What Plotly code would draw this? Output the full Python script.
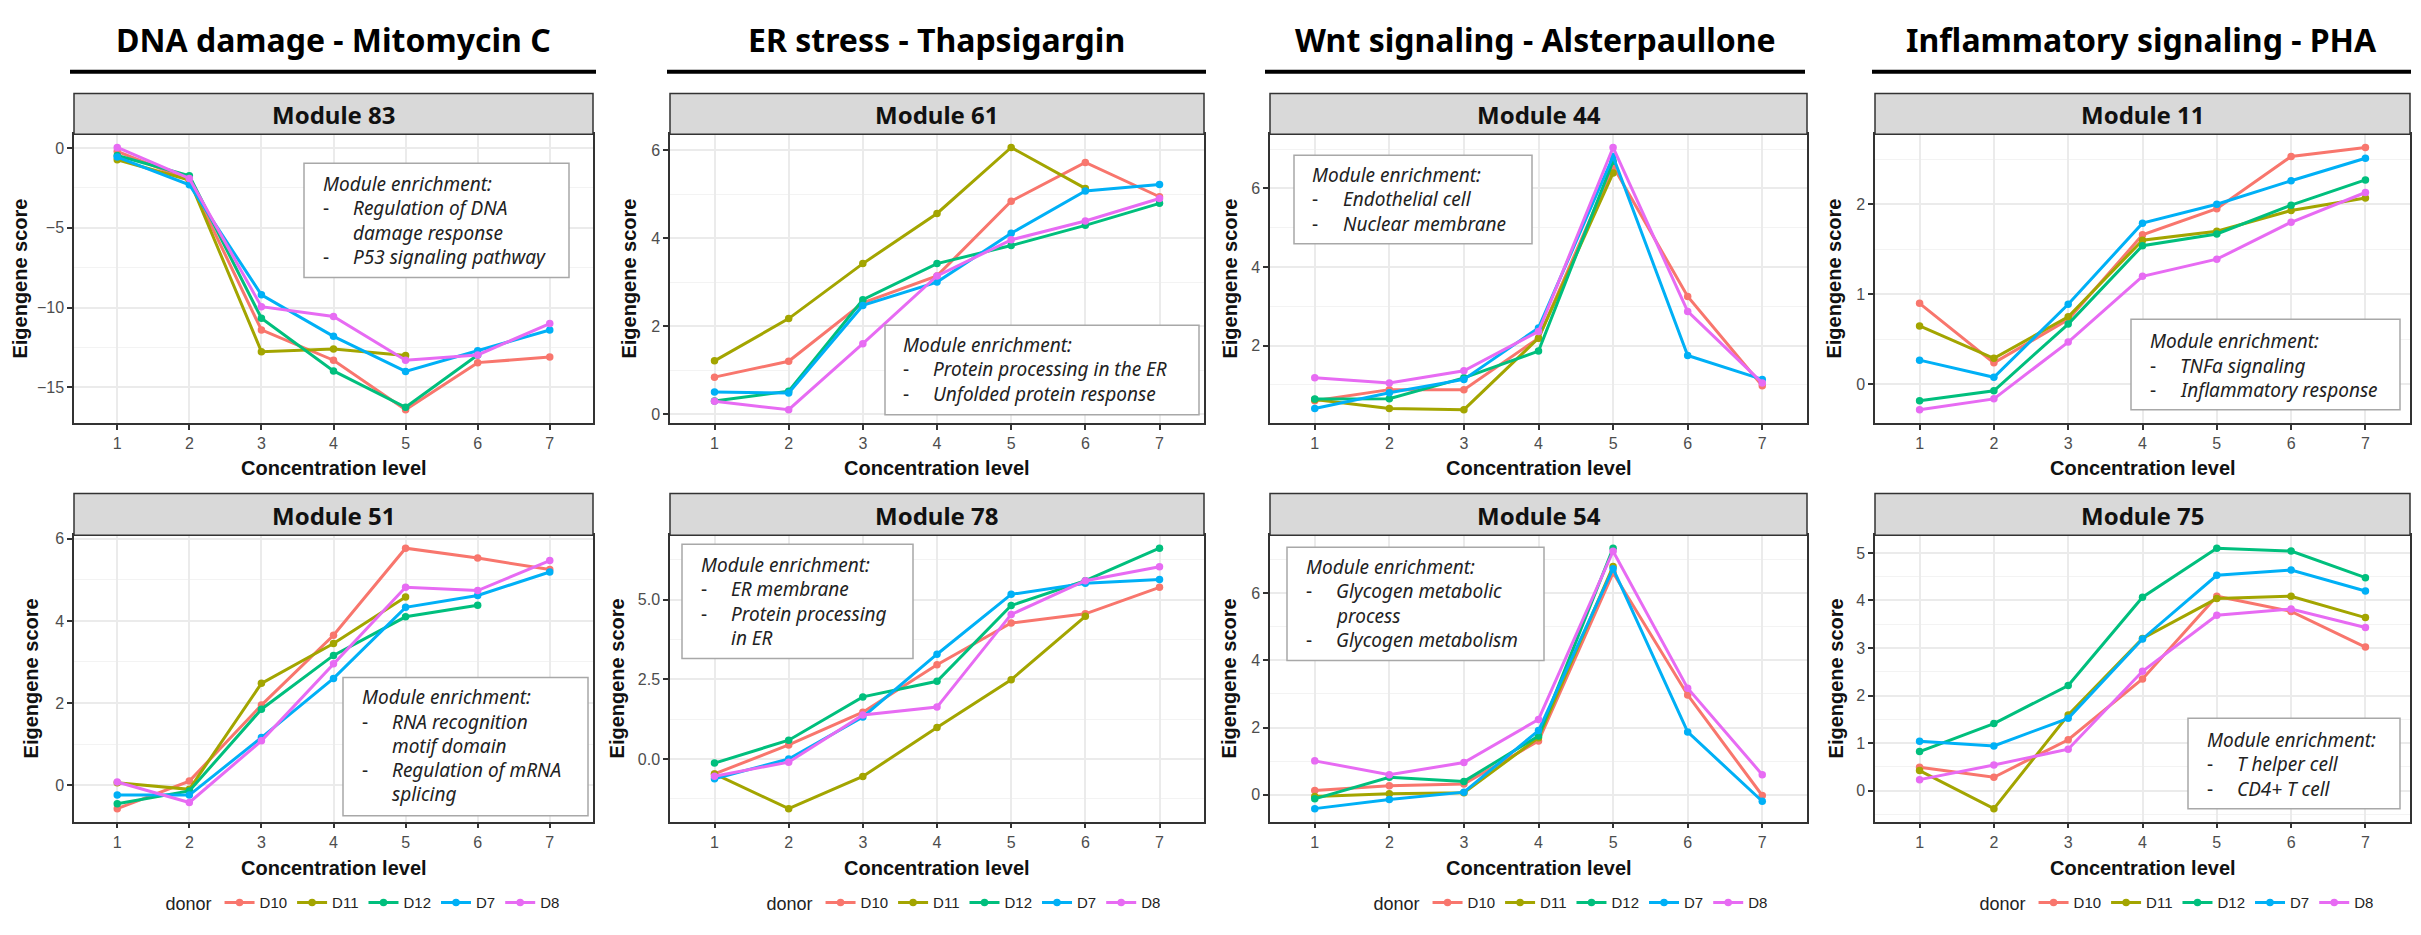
import plotly.graph_objects as go

# ---------------- data ----------------
levels = [1, 2, 3, 4, 5, 6, 7]
donors = ["D10", "D11", "D12", "D7", "D8"]
donor_colors = ["#F8766D", "#A3A500", "#00BF7D", "#00B0F6", "#E76BF3"]

column_titles = ["DNA damage - Mitomycin C", "ER stress - Thapsigargin",
                 "Wnt signaling - Alsterpaullone", "Inflammatory signaling - PHA"]

module_83 = {"D10": [-0.2, -2.0, -11.4, -13.3, -16.4, -13.45, -13.1],
             "D11": [-0.73, -2.0, -12.76, -12.6, -13.0, None, None],
             "D12": [-0.46, -1.74, -10.67, -13.97, -16.25, -12.97, None],
             "D7": [-0.56, -2.3, -9.2, -11.8, -14.0, -12.7, -11.4],
             "D8": [0.04, -1.9, -9.94, -10.56, -13.3, -12.97, -11.0]}
module_61 = {"D10": [0.84, 1.2, 2.53, 3.14, 4.84, 5.72, 4.94],
             "D11": [1.21, 2.17, 3.42, 4.56, 6.06, 5.13, None],
             "D12": [0.30, 0.52, 2.6, 3.42, 3.83, 4.29, 4.79],
             "D7": [0.5, 0.48, 2.47, 3.0, 4.11, 5.07, 5.22],
             "D8": [0.29, 0.1, 1.6, 3.14, 3.96, 4.39, 4.9]}
module_44 = {"D10": [0.6, 0.88, 0.88, 2.19, 6.56, 3.25, 0.98],
             "D11": [0.63, 0.4, 0.37, 2.19, 6.39, None, None],
             "D12": [0.64, 0.65, 1.18, 1.86, 6.69, None, None],
             "D7": [0.4, 0.8, 1.14, 2.45, 6.81, 1.75, 1.14],
             "D8": [1.18, 1.05, 1.36, 2.36, 7.04, 2.87, 1.05]}
module_11 = {"D10": [0.9, 0.24, 0.72, 1.66, 1.95, 2.53, 2.63],
             "D11": [0.65, 0.29, 0.75, 1.6, 1.7, 1.93, 2.07],
             "D12": [-0.18, -0.07, 0.67, 1.54, 1.67, 1.99, 2.27],
             "D7": [0.27, 0.08, 0.89, 1.79, 2.0, 2.26, 2.51],
             "D8": [-0.28, -0.16, 0.47, 1.2, 1.39, 1.8, 2.13]}
module_51 = {"D10": [-0.57, 0.1, 1.95, 3.65, 5.77, 5.53, 5.25],
             "D11": [0.06, -0.1, 2.48, 3.45, 4.58, None, None],
             "D12": [-0.45, -0.14, 1.85, 3.16, 4.1, 4.38, None],
             "D7": [-0.24, -0.24, 1.16, 2.6, 4.33, 4.62, 5.19],
             "D8": [0.08, -0.42, 1.08, 2.96, 4.82, 4.74, 5.47]}
module_78 = {"D10": [-0.47, 0.44, 1.47, 2.96, 4.27, 4.56, 5.39],
             "D11": [-0.47, -1.56, -0.55, 0.99, 2.49, 4.48, None],
             "D12": [-0.13, 0.59, 1.95, 2.44, 4.82, 5.6, 6.62],
             "D7": [-0.62, 0.0, 1.32, 3.29, 5.17, 5.52, 5.64],
             "D8": [-0.54, -0.1, 1.38, 1.63, 4.54, 5.6, 6.04]}
module_54 = {"D10": [0.13, 0.27, 0.32, 1.6, 6.6, 2.97, -0.02],
             "D11": [-0.05, 0.03, 0.06, 1.7, 6.79, None, None],
             "D12": [-0.12, 0.52, 0.4, 1.75, 7.33, None, None],
             "D7": [-0.41, -0.14, 0.08, 1.91, 6.72, 1.87, -0.19],
             "D8": [1.01, 0.6, 0.96, 2.24, 7.24, 3.17, 0.6]}
module_75 = {"D10": [0.49, 0.28, 1.07, 2.35, 4.09, 3.77, 3.02],
             "D11": [0.42, -0.38, 1.59, 3.2, 4.04, 4.09, 3.64],
             "D12": [0.82, 1.41, 2.21, 4.07, 5.1, 5.04, 4.48],
             "D7": [1.04, 0.94, 1.52, 3.19, 4.53, 4.64, 4.2],
             "D8": [0.23, 0.54, 0.87, 2.51, 3.69, 3.82, 3.43]}

enrich_83 = [["Regulation of DNA", "damage response"], ["P53 signaling pathway"]]
enrich_61 = [["Protein processing in the ER"], ["Unfolded protein response"]]
enrich_44 = [["Endothelial cell"], ["Nuclear membrane"]]
enrich_11 = [["TNFa signaling"], ["Inflammatory response"]]
enrich_51 = [["RNA recognition", "motif domain"], ["Regulation of mRNA", "splicing"]]
enrich_78 = [["ER membrane"], ["Protein processing", "in ER"]]
enrich_54 = [["Glycogen metabolic", "process"], ["Glycogen metabolism"]]
enrich_75 = [["T helper cell"], ["CD4+ T cell"]]

panels = [
    ("Module 83", module_83, enrich_83, 5),
    ("Module 61", module_61, enrich_61, 2),
    ("Module 44", module_44, enrich_44, 2),
    ("Module 11", module_11, enrich_11, 1),
    ("Module 51", module_51, enrich_51, 2),
    ("Module 78", module_78, enrich_78, 2.5),
    ("Module 54", module_54, enrich_54, 2),
    ("Module 75", module_75, enrich_75, 1),
]

# ---------------- layout geometry (pixels) ----------------
W, H = 2421, 935
def fx(px):
    return px / W
def fy(py):
    return 1 - py / H

col_x = [(66, 585), (662, 1196), (1262, 1799), (1867, 2402)]
row_y = [(122, 412), (525, 813)]
strip_y = [(81, 122), (483, 525)]
title_line_x = [(62, 588), (659, 1198), (1257, 1797), (1864, 2403)]
ytitle_x = [12, 621, 1222, 1826, 23, 609, 1221, 1828]
xtitle_y = [457, 860]
legend_cx = [356, 957, 1564, 2170]
# enrichment boxes: x0, y0, x1, y1, dash-x, text-x, first-line-center-y
boxes = [
    (296, 151, 561, 266, 313, 343, 172),
    (877, 314, 1191, 404, 893, 923, 334),
    (1286, 143, 1524, 232, 1302, 1333, 163),
    (2123, 308, 2392, 399, 2140, 2170, 330),
    (335, 668, 580, 807, 352, 382, 688),
    (674, 534, 905, 649, 691, 721, 555),
    (1279, 537, 1536, 651, 1296, 1326, 557),
    (2180, 709, 2392, 800, 2197, 2227, 731),
]
LINE_H = 24.4

AX_FONT = "Liberation Sans, Arial, sans-serif"
HEAD_FONT = "Noto Sans, Open Sans, sans-serif"
GRID = "#EBEBEB"
BORDER = "#333333"

fig = go.Figure()
shapes = []
annotations = []
layout = {}

for i, (mname, data, enrich, dtick) in enumerate(panels):
    r, c = divmod(i, 4)
    n = i + 1
    xa = "x" if n == 1 else f"x{n}"
    ya = "y" if n == 1 else f"y{n}"
    leg = "legend" if c == 0 else f"legend{c + 1}"
    allv = []
    for d, color in zip(donors, donor_colors):
        vals = data[d]
        xs = [lv for lv, v in zip(levels, vals) if v is not None]
        ys = [v for v in vals if v is not None]
        allv += ys
        fig.add_trace(go.Scatter(
            x=xs, y=ys, mode="lines+markers", name=d,
            line=dict(color=color, width=3), marker=dict(color=color, size=7.5),
            xaxis=xa, yaxis=ya, legend=leg, showlegend=(r == 1)))
    lo, hi = min(allv), max(allv)
    pad = 0.05 * (hi - lo)
    x0, x1 = col_x[c]
    y0, y1 = row_y[r]
    layout["xaxis" if n == 1 else f"xaxis{n}"] = dict(
        domain=[fx(x0), fx(x1)], anchor=ya, range=[0.4, 7.6],
        tickmode="array", tickvals=levels, ticktext=[str(v) for v in levels],
        showgrid=True, gridcolor=GRID, gridwidth=1.5, zeroline=False,
        showline=True, linecolor=BORDER, linewidth=1.5, mirror=True,
        ticks="outside", ticklen=5, tickwidth=1.5, tickcolor=BORDER,
        tickfont=dict(family=AX_FONT, size=16, color="#4D4D4D"))
    layout["yaxis" if n == 1 else f"yaxis{n}"] = dict(
        domain=[fy(y1), fy(y0)], anchor=xa, range=[lo - pad, hi + pad],
        tick0=0, dtick=dtick, tickformat=".1f" if dtick == 2.5 else None,
        showgrid=True, gridcolor=GRID, gridwidth=1.5, zeroline=False,
        minor=dict(tick0=0, dtick=dtick / 2, showgrid=True, gridcolor="#F3F3F3", gridwidth=1),
        showline=True, linecolor=BORDER, linewidth=1.5, mirror=True,
        ticks="outside", ticklen=5, tickwidth=1.5, tickcolor=BORDER,
        tickfont=dict(family=AX_FONT, size=16, color="#4D4D4D"))

    # strip
    s0, s1 = strip_y[r]
    shapes.append(dict(type="rect", xref="paper", yref="paper",
                       x0=fx(x0), x1=fx(x1), y0=fy(s1), y1=fy(s0),
                       fillcolor="#D9D9D9", line=dict(color=BORDER, width=1.5)))
    annotations.append(dict(text=f"<b>{mname}</b>", xref="paper", yref="paper",
                            x=fx((x0 + x1) / 2), y=fy((s0 + s1) / 2 + 1),
                            showarrow=False, xanchor="center", yanchor="middle",
                            font=dict(family=HEAD_FONT, size=24, color="#111111")))
    # axis titles
    annotations.append(dict(text="<b>Concentration level</b>", xref="paper", yref="paper",
                            x=fx((x0 + x1) / 2), y=fy(xtitle_y[r]), showarrow=False,
                            xanchor="center", yanchor="middle",
                            font=dict(family=AX_FONT, size=20, color="#111111")))
    annotations.append(dict(text="<b>Eigengene score</b>", xref="paper", yref="paper",
                            x=fx(ytitle_x[i]), y=fy((y0 + y1) / 2), showarrow=False,
                            textangle=-90, xanchor="center", yanchor="middle",
                            font=dict(family=AX_FONT, size=20, color="#111111")))

    # enrichment box
    bx0, by0, bx1, by1, dash_x, text_x, first_y = boxes[i]
    shapes.append(dict(type="rect", xref="paper", yref="paper",
                       x0=fx(bx0), x1=fx(bx1), y0=fy(by1), y1=fy(by0),
                       fillcolor="white", line=dict(color="#A8A8A8", width=1.5), layer="above"))
    efont = dict(family=HEAD_FONT, size=19, color="#222222")
    annotations.append(dict(text="<i>Module enrichment:</i>", xref="paper", yref="paper",
                            x=fx(dash_x), y=fy(first_y), showarrow=False,
                            xanchor="left", yanchor="middle", font=efont))
    k = 1
    for item in enrich:
        annotations.append(dict(text="-", xref="paper", yref="paper",
                                x=fx(dash_x), y=fy(first_y + k * LINE_H), showarrow=False,
                                xanchor="left", yanchor="middle", font=efont))
        for line in item:
            annotations.append(dict(text=f"<i>{line}</i>", xref="paper", yref="paper",
                                    x=fx(text_x), y=fy(first_y + k * LINE_H), showarrow=False,
                                    xanchor="left", yanchor="middle", font=efont))
            k += 1

# column titles and rules
for c, t in enumerate(column_titles):
    lx0, lx1 = title_line_x[c]
    annotations.append(dict(text=f"<b>{t}</b>", xref="paper", yref="paper",
                            x=fx((lx0 + lx1) / 2), y=fy(27), showarrow=False,
                            xanchor="center", yanchor="middle",
                            font=dict(family=HEAD_FONT, size=32, color="#000000")))
    shapes.append(dict(type="line", xref="paper", yref="paper",
                       x0=fx(lx0), x1=fx(lx1), y0=fy(59), y1=fy(59),
                       line=dict(color="#000000", width=4)))

for c in range(4):
    key = "legend" if c == 0 else f"legend{c + 1}"
    layout[key] = dict(orientation="h", x=fx(legend_cx[c]), xanchor="center",
                       y=fy(895), yanchor="middle", bgcolor="rgba(0,0,0,0)",
                       title=dict(text="donor", side="left",
                                  font=dict(family=AX_FONT, size=18, color="#222222")),
                       font=dict(family=AX_FONT, size=15, color="#222222"),
                       itemwidth=30, tracegroupgap=0)

fig.update_layout(width=W, height=H, margin=dict(l=0, r=0, t=0, b=0),
                  plot_bgcolor="white", paper_bgcolor="white",
                  font=dict(family=AX_FONT), shapes=shapes, annotations=annotations,
                  hovermode="closest", **layout)

fig.write_html("out.html")
